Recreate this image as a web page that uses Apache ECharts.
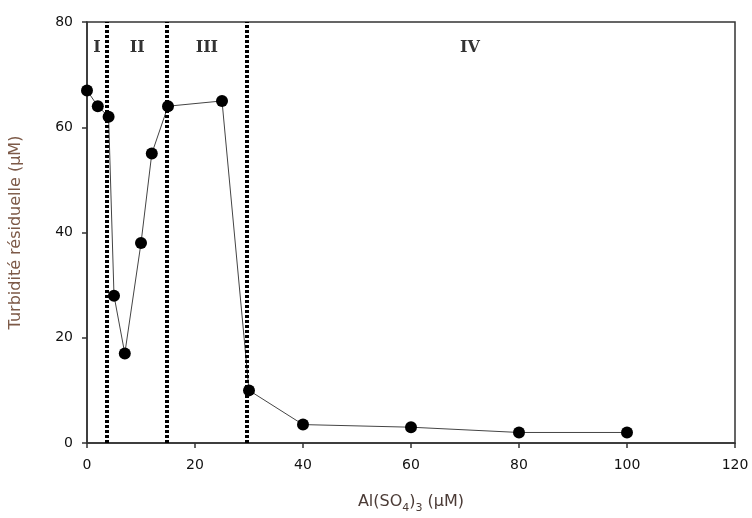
<!DOCTYPE html>
<html>
<head>
    <meta charset="utf-8">
    <title>Turbidité résiduelle</title>
    <script src="https://cdn.jsdelivr.net/npm/echarts@6/dist/echarts.min.js"></script>
    <style>
        html, body { margin: 0; padding: 0; background: #fff; }
        #main { width: 752px; height: 518px; }
    </style>
</head>
<body>
<div id="main"></div>
<script>
    // dose d'Al(SO4)3 (µM) et turbidité résiduelle (µM)
    var doses = [0, 2, 4, 5, 7, 10, 12, 15, 25, 30, 40, 60, 80, 100];
    var turbidite = [67, 64, 62, 28, 17, 38, 55, 64, 65, 10, 3.5, 3, 2, 2];
    // limites des zones
    var limites = [3.7, 14.8, 29.6];
    var zones = ['I', 'II', 'III', 'IV'];
    var zonesX = [1.85, 9.3, 22.2, 70.9];
    var zonesY = 75;

    var points = [];
    for (var i = 0; i < doses.length; i++) {
        points.push([doses[i], turbidite[i]]);
    }
    var etiquettes = [];
    for (var j = 0; j < zones.length; j++) {
        etiquettes.push({ value: [zonesX[j], zonesY], name: zones[j] });
    }
    var lignes = [];
    for (var k = 0; k < limites.length; k++) {
        lignes.push({ xAxis: limites[k] });
    }

    var myChart = echarts.init(document.getElementById('main'));
    var option = {
        animation: false,
        grid: {
            left: 87, right: 17, top: 22, bottom: 75,
            outerBoundsMode: 'none',
            containLabel: false,
            show: true, borderColor: '#333', borderWidth: 1.5, backgroundColor: 'transparent'
        },
        xAxis: {
            type: 'value', min: 0, max: 120, interval: 20,
            name: '{n|Al(SO}{s|4}{n|)}{s|3}{n| (µM)}',
            nameLocation: 'middle', nameGap: 46,
            nameTextStyle: {
                rich: {
                    n: { fontFamily: 'DejaVu Sans', fontSize: 16, color: '#4b3b36' },
                    s: { fontFamily: 'DejaVu Sans', fontSize: 11, color: '#4b3b36', padding: [14, 0, 0, 0] }
                }
            },
            axisLine: { onZero: false, lineStyle: { color: '#333', width: 1.5 } },
            axisTick: { show: true, length: 5, lineStyle: { color: '#333', width: 1.5 } },
            axisLabel: { fontFamily: 'DejaVu Sans', fontSize: 14, color: '#111', margin: 15 },
            splitLine: { show: false }
        },
        yAxis: {
            type: 'value', min: 0, max: 80, interval: 20,
            name: 'Turbidité résiduelle (µM)',
            nameLocation: 'middle', nameGap: 63,
            nameTextStyle: { fontFamily: 'DejaVu Sans', fontSize: 16, color: '#7d5a48' },
            axisLine: { onZero: false, lineStyle: { color: '#333', width: 1.5 } },
            axisTick: { show: true, length: 5, lineStyle: { color: '#333', width: 1.5 } },
            axisLabel: { fontFamily: 'DejaVu Sans', fontSize: 14, color: '#111', margin: 14 },
            splitLine: { show: false }
        },
        series: [
            {
                type: 'line',
                data: points,
                symbol: 'circle',
                symbolSize: 12,
                itemStyle: { color: '#000' },
                lineStyle: { color: '#444', width: 1 },
                z: 3,
                markLine: {
                    silent: true,
                    symbol: 'none',
                    label: { show: false },
                    lineStyle: { color: '#000', width: 4, type: [3, 2] },
                    data: lignes
                }
            },
            {
                type: 'scatter',
                data: etiquettes,
                symbolSize: 0,
                silent: true,
                label: {
                    show: true,
                    position: 'inside',
                    formatter: '{b}',
                    fontFamily: 'DejaVu Serif',
                    fontWeight: 'bold',
                    fontSize: 16,
                    color: '#000'
                }
            }
        ]
    };
    myChart.setOption(option);
</script>
</body>
</html>
